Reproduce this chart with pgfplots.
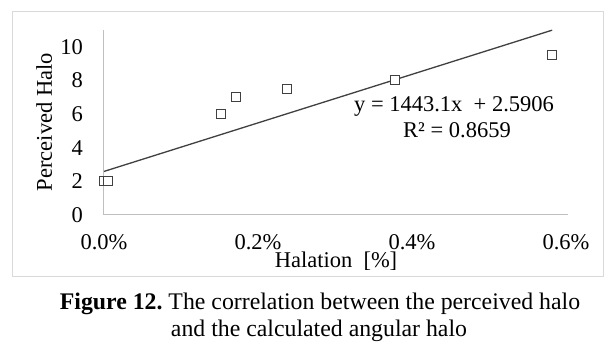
\documentclass[border=0pt]{standalone}
\usepackage{fontspec}
\setmainfont{Liberation Serif}
\usepackage{pgfplots}
\pgfplotsset{compat=1.18}
\definecolor{axisgray}{HTML}{BFBFBF}
\definecolor{framegray}{HTML}{D9D9D9}
\definecolor{markgray}{HTML}{404040}
\begin{document}
\frenchspacing
\fontsize{22.5}{27}\selectfont
\begin{tikzpicture}[x=1pt,y=1pt]
\path[use as bounding box] (0,0) rectangle (614,352);
\fill[white] (0,0) rectangle (614,352);
\draw[framegray, line width=1pt] (12,75) rectangle (603,340);
\begin{axis}[
  at={(104pt,137pt)}, anchor=south west,
  scale only axis, width=464pt, height=185pt,
  xmin=0, xmax=0.6026, ymin=0, ymax=11,
  axis x line*=bottom, axis y line*=left,
  axis line style={axisgray, line width=1pt, -},
  xtick={0,0.2,0.4,0.6}, xticklabels={0.0\%,0.2\%,0.4\%,0.6\%},
  ytick={0,2,4,6,8,10}, yticklabels={0,2,4,6,8,10},
  major tick length=0pt, tick style={draw=none},
  xticklabel style={anchor=north, inner sep=0pt, yshift=-19.5pt},
  yticklabel style={anchor=east, inner sep=0pt, xshift=-21pt},
  clip=false,
]
\addplot[only marks, mark=square*, mark size=4.5pt,
  mark options={draw=markgray, fill=white, line width=1pt}]
  coordinates {(0,2) (0.0055,2) (0.152,6) (0.171,7) (0.238,7.5) (0.378,8) (0.582,9.5)};
\addplot[markgray, line width=1.3pt, no marks]
  coordinates {(0,2.5906) (0.582,10.989)};
\end{axis}
\node[rotate=90, anchor=base] at (52,230) {Perceived Halo};
\node[anchor=base] at (336,84) {Halation\enspace[\%]};
\node[anchor=base] at (454,240) {y = 1443.1x\enspace+ 2.5906};
\node[anchor=base] at (457,214) {R² = 0.8659};
\node[anchor=base, font=\fontsize{23.8}{28}\selectfont] at (320,42) {\textbf{Figure 12.} The correlation between the perceived halo};
\node[anchor=base, font=\fontsize{23.8}{28}\selectfont] at (319,15) {and the calculated angular halo};
\end{tikzpicture}
\end{document}
